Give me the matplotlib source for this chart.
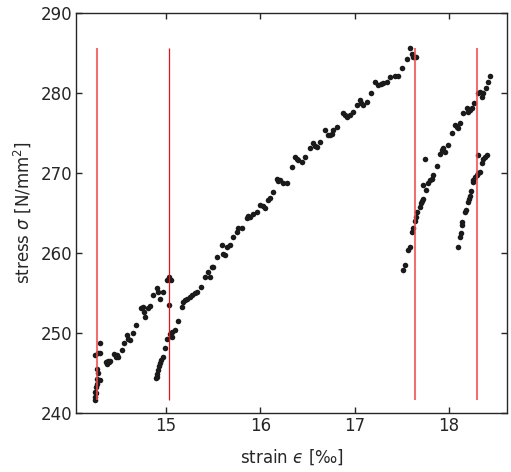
import numpy as np
import matplotlib.pyplot as plt

# first loading branch (starts at the left reload line)
strain_a = [14.247, 14.247, 14.250, 14.258, 14.258, 14.262, 14.268, 14.300, 14.279,
            14.270, 14.247, 14.279, 14.300, 14.300,
            14.364, 14.374, 14.385, 14.395, 14.406, 14.449, 14.470, 14.480, 14.490,
            14.533, 14.554, 14.586, 14.597, 14.618, 14.650, 14.682,
            14.735, 14.756, 14.767, 14.777, 14.809, 14.830,
            14.862, 14.905, 14.915, 14.936, 14.968, 15.010, 15.030, 15.050]
stress_a = [241.6, 241.9, 242.6, 242.4, 243.2, 243.6, 244.2, 244.1, 244.9,
            245.5, 247.2, 247.4, 247.4, 248.7,
            246.3, 246.05, 246.4, 246.3, 246.4, 247.3, 247.0, 247.2, 246.95,
            247.8, 248.7, 249.7, 249.2, 249.1, 249.95, 250.95,
            253.1, 253.2, 252.6, 252.0, 253.1, 253.3,
            254.7, 255.6, 255.1, 254.2, 255.1, 256.6, 257.0, 256.6]

# main branch, reloaded at ~15 and running up to the peak
strain_b = [14.894, 14.900, 14.905, 14.915, 14.926, 14.936, 14.947, 14.968, 14.989,
            15.010, 15.042, 15.064, 15.064, 15.095, 15.030, 15.127,
            15.170, 15.180, 15.200, 15.220, 15.250, 15.276, 15.310, 15.330, 15.370,
            15.414, 15.449, 15.467, 15.485, 15.500, 15.538,
            15.590, 15.608, 15.626, 15.644, 15.679, 15.714, 15.750, 15.767, 15.803,
            15.856, 15.870, 15.890, 15.926, 15.962, 15.997, 16.030, 16.050, 16.085, 16.103,
            16.138, 16.174, 16.190, 16.209, 16.244, 16.280, 16.333,
            16.368, 16.385, 16.403, 16.439, 16.474, 16.527, 16.562, 16.580, 16.598, 16.633,
            16.686, 16.721, 16.740, 16.757, 16.774, 16.810,
            16.880, 16.900, 16.916, 16.951, 16.986, 17.022, 17.057, 17.070, 17.086,
            17.128, 17.171, 17.216, 17.251, 17.280, 17.304, 17.340, 17.375,
            17.428, 17.463, 17.500, 17.553, 17.587, 17.605, 17.622, 17.650]
stress_b = [244.3, 244.5, 244.8, 245.3, 245.8, 246.2, 246.6, 246.9, 248.1,
            249.2, 249.8, 249.5, 250.1, 250.3, 253.5, 251.5,
            253.2, 253.8, 254.1, 254.2, 254.5, 254.7, 255.0, 255.1, 255.7,
            257.0, 257.6, 257.0, 258.25, 258.25, 259.5,
            261.0, 259.9, 259.7, 260.75, 261.0, 262.0, 262.6, 263.05, 263.05,
            264.3, 264.6, 264.5, 264.9, 265.1, 266.0, 265.8, 265.55, 266.6, 266.8,
            267.6, 269.3, 269.0, 269.1, 268.7, 268.7, 270.8,
            272.0, 271.7, 271.6, 271.4, 272.0, 273.1, 273.7, 273.4, 273.3, 273.9,
            275.4, 274.7, 274.8, 274.9, 275.4, 275.8,
            277.45, 277.2, 277.0, 277.2, 277.65, 278.5, 279.1, 278.8, 278.5,
            278.9, 279.95, 281.4, 281.0, 281.1, 281.2, 281.4, 282.0,
            282.2, 282.2, 283.1, 284.3, 285.6, 284.95, 284.5, 284.5]

# reload after the peak (upper right branch)
strain_c = [17.516, 17.534, 17.569, 17.587, 17.609, 17.622, 17.640, 17.651, 17.665,
            17.693, 17.700, 17.715, 17.729, 17.722, 17.757, 17.780, 17.800, 17.818,
            17.835, 17.871, 17.747, 17.906, 17.924, 17.940, 17.959, 17.994,
            18.030, 18.065, 18.083, 18.100, 18.118, 18.153, 18.189, 18.206, 18.224,
            18.242, 18.266, 18.312, 18.330, 18.348, 18.365, 18.393, 18.418, 18.436]
stress_c = [257.8, 258.45, 260.3, 260.75, 262.6, 263.05, 263.95, 264.45, 265.05,
            265.75, 266.2, 266.5, 266.7, 268.5, 267.85, 268.7, 269.1, 269.3,
            269.7, 270.85, 271.7, 272.4, 272.85, 273.1, 272.6, 273.5,
            274.95, 276.0, 275.8, 275.6, 276.2, 277.45, 278.1, 277.6, 277.9,
            278.1, 278.7, 279.95, 280.15, 279.5, 279.95, 280.6, 281.4, 282.1]

# last reload (lower right branch)
strain_d = [18.100, 18.118, 18.125, 18.134, 18.142, 18.171, 18.185, 18.206, 18.213,
            18.224, 18.238, 18.250, 18.259, 18.277, 18.295, 18.312, 18.330,
            18.312, 18.348, 18.365, 18.383, 18.400]
stress_d = [260.75, 262.0, 262.45, 263.45, 263.8, 265.1, 265.4, 266.35, 266.7,
            267.1, 267.7, 268.85, 269.1, 269.5, 269.7, 270.0, 270.15,
            272.2, 271.2, 271.8, 272.0, 272.2]

# strain positions of the unloading events
unload_strain = [14.265, 15.035, 17.64, 18.295]

text_color = "#262626"
plt.rcParams["font.family"] = ["DejaVu Sans"]
plt.rcParams["font.size"] = 12
plt.rcParams["mathtext.fontset"] = "dejavusans"

fig = plt.figure(figsize=(5.11, 4.72), dpi=100)
fig.subplots_adjust(left=0.149, right=0.993, bottom=0.126, top=0.972)
ax = fig.add_subplot(111)

all_strain = strain_a + strain_b + strain_c + strain_d
all_stress = stress_a + stress_b + stress_c + stress_d
ax.plot(all_strain, all_stress, linestyle="none", marker="o", markersize=4,
        markeredgewidth=0, color="#1a1a1a", zorder=2)

# unloading lines span the measured stress range
ymin, ymax = min(all_stress), max(all_stress)
for i, xs in enumerate(unload_strain):
    if i == 1:
        ax.vlines(xs, ymin, ymax, color="#e0141c", linewidth=0.9, zorder=3)
    else:
        ax.vlines(xs, ymin, ymax, color="#ee4a50", linewidth=1.5, alpha=0.8,
                  zorder=3)

ax.set_xlim(14.046, 18.62)
ax.set_ylim(240, 290)
ax.set_xticks([15, 16, 17, 18])
ax.set_yticks([240, 250, 260, 270, 280, 290])
ax.tick_params(direction="in", length=4, width=1, top=True, right=True,
               colors=text_color, labelsize=12, pad=3)
for spine in ax.spines.values():
    spine.set_color(text_color)
    spine.set_linewidth(1.0)

ax.set_xlabel("strain $\u03f5$ [‰]", color=text_color, labelpad=9)
ax.set_ylabel(r"stress $\sigma$ [N/mm$^2$]", color=text_color, labelpad=5)

fig.savefig("out.png", dpi=100)
